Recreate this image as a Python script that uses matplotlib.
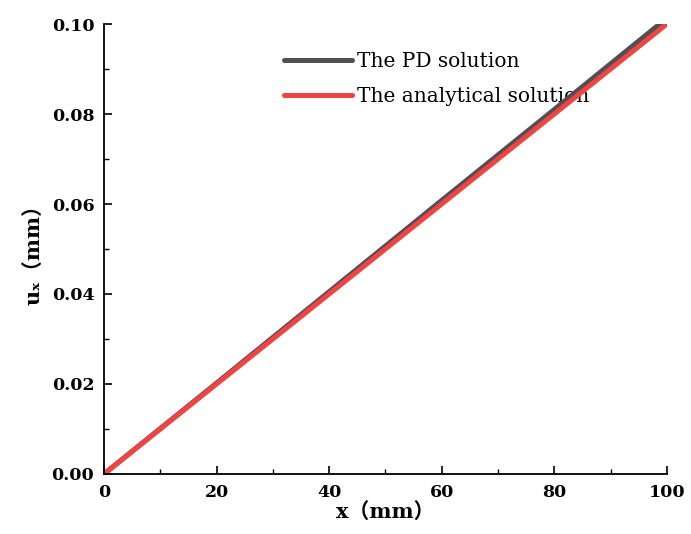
import matplotlib.pyplot as plt
from matplotlib.ticker import MultipleLocator

# valores
x_mm = [0, 20, 40, 60, 80, 100]
u_pd = [0.0, 0.0202, 0.0405, 0.0608, 0.0810, 0.1013]
u_analitico = [0.0, 0.020, 0.040, 0.060, 0.080, 0.100]

FONTES = ["DejaVu Serif", "Noto Sans CJK SC"]
plt.rcParams["font.family"] = FONTES

fig = plt.figure(figsize=(6.91, 5.34), dpi=100)
ax = fig.add_axes([0.1505, 0.1124, 0.8145, 0.8426])

ax.plot(x_mm, u_pd, color="#505050", lw=3.6, solid_capstyle="round",
        label="The PD solution")
ax.plot(x_mm, u_analitico, color="#f04343", lw=3.6, solid_capstyle="round",
        label="The analytical solution")

ax.set_xlim(0, 100)
ax.set_ylim(0, 0.10)
ax.xaxis.set_major_locator(MultipleLocator(20))
ax.xaxis.set_minor_locator(MultipleLocator(10))
ax.yaxis.set_major_locator(MultipleLocator(0.02))
ax.yaxis.set_minor_locator(MultipleLocator(0.01))
ax.yaxis.set_major_formatter(lambda v, p: f"{v:.2f}")

for lado in ("top", "right"):
    ax.spines[lado].set_visible(False)
for lado in ("left", "bottom"):
    ax.spines[lado].set_linewidth(1.3)

ax.tick_params(which="major", direction="in", length=6, width=1.2,
               labelsize=12.5, pad=7)
ax.tick_params(which="minor", direction="in", length=3.5, width=1.0)
for rotulo in ax.get_xticklabels() + ax.get_yticklabels():
    rotulo.set_fontweight("bold")

ax.set_xlabel("x（mm）", fontsize=15, fontweight="bold", labelpad=1)
ax.set_ylabel("uₓ（mm）", fontsize=15, fontweight="bold", labelpad=6)

legenda = ax.legend(loc="upper left", bbox_to_anchor=(0.305, 0.955),
                    frameon=False, fontsize=14.5, handlelength=3.4,
                    handletextpad=0.25, labelspacing=0.8, borderaxespad=0)
legenda.set_zorder(1)  # as linhas passam por cima do texto, como no original

fig.savefig("out.png", dpi=100)
